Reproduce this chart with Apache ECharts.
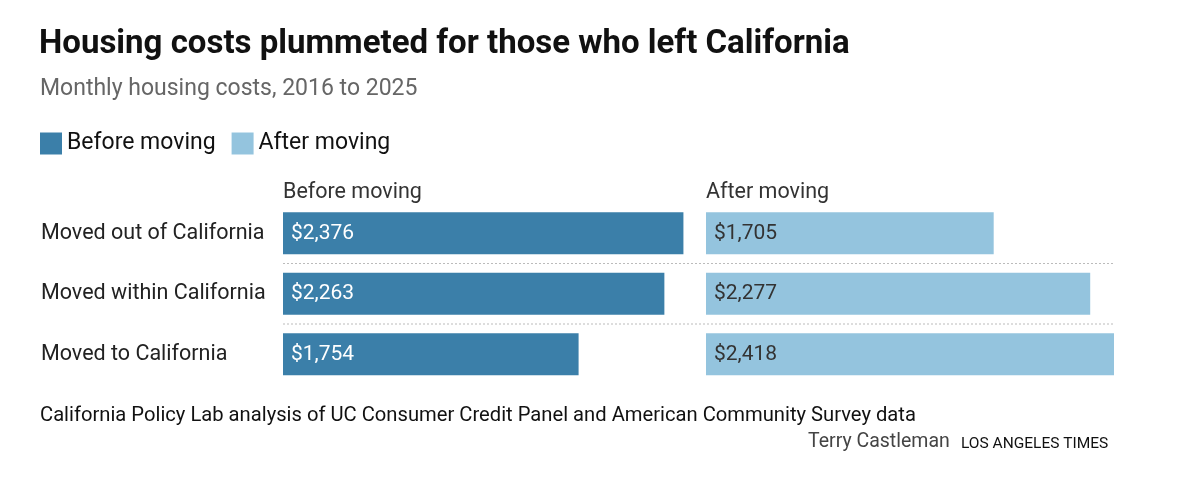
<!DOCTYPE html>
<html><head><meta charset="utf-8">
<script src="https://cdn.jsdelivr.net/npm/echarts@6/dist/echarts.min.js"></script>
<style>html,body{margin:0;padding:0;background:#fff}#c{width:1200px;height:491px}</style>
</head><body><div id="c"></div>
<script>
const categories = ['Moved out of California','Moved within California','Moved to California'];
const before = [2376, 2263, 1754];
const after = [1705, 2277, 2418];
const dark = '#3b7fa9', light = '#94c4de';
const F = 'Roboto, "Noto Sans", sans-serif';
const fmt = v => '$' + v.toLocaleString('en-US');
const chart = echarts.init(document.getElementById('c'));
const maxV = 2418;
const t = (text,left,top,size,color,weight) => ({text,left,top,padding:0,textStyle:{fontSize:size,fontWeight:weight||'normal',color,fontFamily:F}});
chart.setOption({
  animation:false,
  textStyle:{fontFamily:F},
  title:[
    t('Housing costs plummeted for those who left California',39,28,33,'#111','bold'),
    t('Monthly housing costs, 2016 to 2025',40,78,23,'#666'),
    t('Before moving',283,182,21.5,'#333'),
    t('After moving',706,182,21.5,'#333'),
    t('California Policy Lab analysis of UC Consumer Credit Panel and American Community Survey data',40,406,20.2,'#111'),
    t('Terry Castleman',808,432,19.5,'#444'),
    t('LOS ANGELES TIMES',961,436,15.5,'#111')
  ],
  legend:{left:40,top:132,padding:0,itemWidth:22,itemHeight:22,itemGap:16,icon:'rect',
    textStyle:{fontSize:23,color:'#111',fontFamily:F,padding:[0,0,0,0]},
    data:['Before moving','After moving']},
  grid:[
    {left:283,top:203,width:407.5,height:181.5},
    {left:706,top:203,width:408,height:181.5}
  ],
  xAxis:[
    {gridIndex:0,type:'value',min:0,max:maxV,show:false},
    {gridIndex:1,type:'value',min:0,max:maxV,show:false}
  ],
  yAxis:[
    {gridIndex:0,type:'category',data:categories,inverse:true,axisLine:{show:false},axisTick:{show:false},
      axisLabel:{margin:242,align:'left',fontSize:21.5,color:'#222',fontFamily:F,verticalAlign:'middle',lineHeight:24}},
    {gridIndex:1,type:'category',data:categories,inverse:true,show:false}
  ],
  series:[
    {name:'Before moving',type:'bar',xAxisIndex:0,yAxisIndex:0,data:before,barWidth:42,itemStyle:{color:dark},
      label:{show:true,position:'insideLeft',offset:[3,0],formatter:p=>fmt(p.value),color:'#fff',fontSize:21,fontFamily:F}},
    {name:'After moving',type:'bar',xAxisIndex:1,yAxisIndex:1,data:after,barWidth:42,itemStyle:{color:light},
      label:{show:true,position:'insideLeft',offset:[3,0],formatter:p=>fmt(p.value),color:'#333',fontSize:21,fontFamily:F}}
  ],
  graphic:[263.5,324].map(y=>({type:'line',shape:{x1:283,y1:y,x2:1114,y2:y},style:{stroke:'#bbb',lineWidth:1,lineDash:[2,2]}}))
});
</script></body></html>
